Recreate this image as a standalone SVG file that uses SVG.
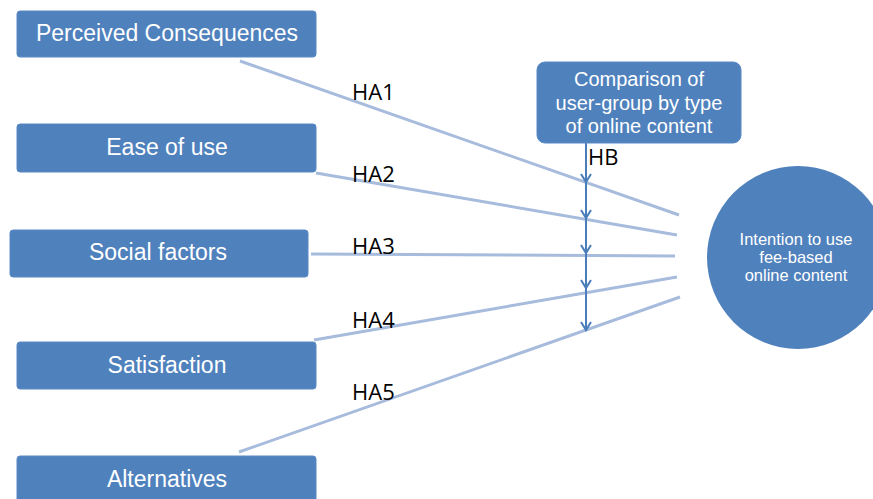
<svg xmlns="http://www.w3.org/2000/svg" width="873" height="499" viewBox="0 0 873 499">
<style>
.box{fill:#4f81bd;stroke:#5a8ac6;stroke-width:1}
.bt{font-family:"Liberation Sans",Arial,sans-serif;font-size:23px;fill:#ffffff;text-anchor:middle}
.tt{font-family:"Liberation Sans",Arial,sans-serif;font-size:20px;fill:#ffffff;text-anchor:middle}
.ct{font-family:"Liberation Sans",Arial,sans-serif;font-size:16.5px;fill:#ffffff;text-anchor:middle}
.lab{font-family:"Open Sans","Liberation Sans",sans-serif;font-size:22px;fill:#000000}
.ln{stroke:#a7bbdc;stroke-width:3;fill:none}
.ar{stroke:#4a7ebb;stroke-width:2;fill:none}
</style>
<rect width="873" height="499" fill="#ffffff"/>
<g id="connectors">
<line class="ln" x1="240" y1="61" x2="679" y2="215"/>
<line class="ln" x1="316" y1="173" x2="677" y2="235"/>
<line class="ln" x1="311" y1="254" x2="675" y2="256"/>
<line class="ln" x1="314" y1="340" x2="677" y2="277"/>
<line class="ln" x1="239" y1="452" x2="680" y2="297"/>
<line class="ar" x1="586" y1="143" x2="586" y2="331"/>
<path class="ar" d="M581,174 L586,182 L591,174 M581,210 L586,218 L591,210 M581,245 L586,253 L591,245 M581,280 L586,288 L591,280 M581,322 L586,330 L591,322"/>
</g>
<g id="node-perceived">
<rect class="box" x="17" y="11" width="299" height="46" rx="3"/>
<text class="bt" x="167" y="41">Perceived Consequences</text>
</g>
<g id="node-ease">
<rect class="box" x="17" y="124" width="299" height="48" rx="3"/>
<text class="bt" x="167" y="155">Ease of use</text>
</g>
<g id="node-social">
<rect class="box" x="10" y="230" width="298" height="47" rx="3"/>
<text class="bt" x="158" y="260">Social factors</text>
</g>
<g id="node-satisfaction">
<rect class="box" x="17" y="342" width="299" height="47" rx="3"/>
<text class="bt" x="167" y="372.5">Satisfaction</text>
</g>
<g id="node-alternatives">
<rect class="box" x="17" y="456" width="299" height="50" rx="3"/>
<text class="bt" x="167" y="486.5">Alternatives</text>
</g>
<g id="node-comparison">
<rect class="box" x="537" y="62" width="204" height="81" rx="8"/>
<text class="tt" x="639" y="86">Comparison of</text>
<text class="tt" x="639" y="110">user-group by type</text>
<text class="tt" x="639" y="133">of online content</text>
</g>
<g id="node-intention">
<ellipse cx="798" cy="257.5" rx="91" ry="91.5" fill="#4f81bd"/>
<text class="ct" x="796" y="245">Intention to use</text>
<text class="ct" x="796" y="263">fee-based</text>
<text class="ct" x="796" y="281">online content</text>
</g>
<g id="labels">
<text class="lab" x="352" y="100">HA1</text>
<text class="lab" x="352" y="182">HA2</text>
<text class="lab" x="352" y="254">HA3</text>
<text class="lab" x="352" y="328">HA4</text>
<text class="lab" x="352" y="400">HA5</text>
<text class="lab" x="588" y="165">HB</text>
</g>
</svg>
